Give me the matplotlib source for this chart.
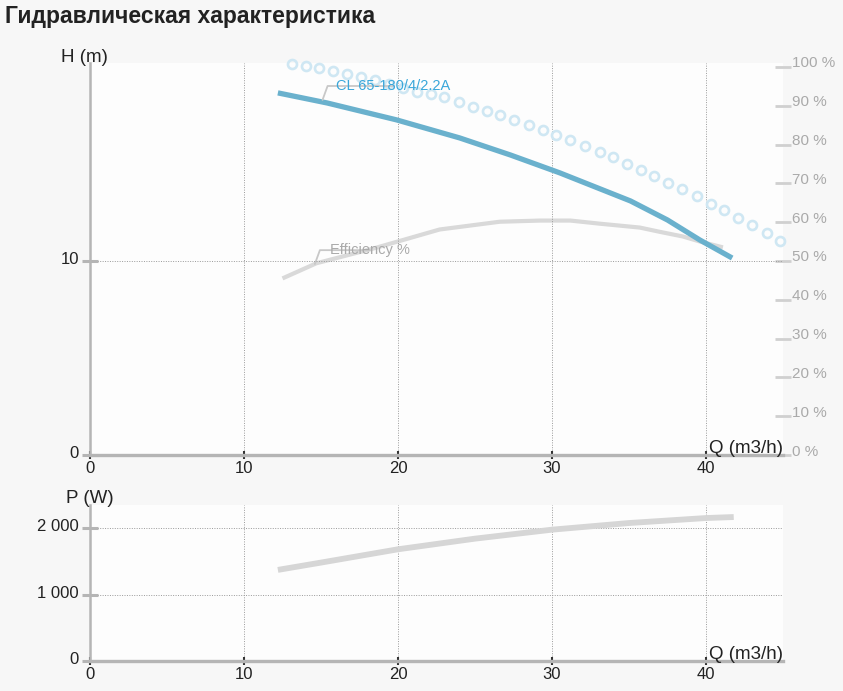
import matplotlib
matplotlib.use("Agg")
import matplotlib.pyplot as plt
import matplotlib.transforms as mtransforms
import numpy as np

plt.rcParams['font.family'] = ['Liberation Sans', 'DejaVu Sans']

# ---------------- data ----------------
title = "Гидравлическая характеристика"
pump_name = "CL 65-180/4/2.2A"

q_head = [12.2, 15.4, 19.9, 24.0, 27.3, 30.5, 35.1, 37.5, 39.6, 41.7]
h_head = [18.66, 18.14, 17.27, 16.34, 15.46, 14.54, 13.09, 12.11, 11.08, 10.15]

q_circ = [13.12, 14.03, 14.87, 15.78, 16.69, 17.60, 18.51, 19.42, 20.32, 21.23,
          22.14, 22.99, 23.96, 24.87, 25.78, 26.62, 27.53, 28.51, 29.42, 30.26,
          31.17, 32.14, 33.12, 33.96, 34.87, 35.78, 36.62, 37.53, 38.44, 39.42,
          40.32, 41.17, 42.08, 42.99, 43.96, 44.81]
h_circ = [20.15, 20.05, 19.95, 19.79, 19.64, 19.48, 19.33, 19.12, 18.92, 18.71,
          18.61, 18.45, 18.20, 17.94, 17.73, 17.53, 17.27, 17.01, 16.75, 16.49,
          16.24, 15.93, 15.62, 15.36, 15.00, 14.69, 14.38, 14.02, 13.71, 13.35,
          12.94, 12.63, 12.22, 11.86, 11.44, 11.03]

q_eff = [12.5, 14.7, 18.4, 22.7, 26.6, 29.2, 31.2, 33.1, 35.7, 37.0, 38.5, 39.6, 41.1]
eff = [45.5, 49.4, 53.2, 58.1, 60.1, 60.4, 60.4, 59.6, 58.6, 57.5, 56.3, 55.0, 53.5]

q_pow = [12.2, 15.0, 20.0, 25.0, 30.0, 35.0, 40.0, 41.8]
p_pow = [1370, 1480, 1680, 1840, 1975, 2075, 2150, 2165]

x_ticks = [0, 10, 20, 30, 40]
h_ticks = [0, 10]
pct_ticks = [0, 10, 20, 30, 40, 50, 60, 70, 80, 90, 100]
pct_labels = [f"{v} %" for v in pct_ticks]
p_ticks = [0, 1000, 2000]
p_labels = ["0", "1 000", "2 000"]

# ---------------- styles ----------------
W, H = 843, 691
fig = plt.figure(figsize=(W / 100, H / 100), dpi=100, facecolor="#f7f7f7")

def fx(px): return px / W
def fy(py): return 1 - py / H

def shift_up(labels, px):
    off = mtransforms.ScaledTranslation(0, px / 100, fig.dpi_scale_trans)
    for lab in labels:
        lab.set_transform(lab.get_transform() + off)

axis_gray = "#b5b5b5"
grid_kw = dict(color="#9a9a9a", linestyle=(0, (1, 1.5)), linewidth=0.7)

def style_axes(ax, ymax):
    ax.set_facecolor("#fdfdfd")
    ax.set_xlim(0, 45)
    ax.set_ylim(0, ymax)
    for s in ("top", "right"):
        ax.spines[s].set_visible(False)
    ax.spines["left"].set_color(axis_gray)
    ax.spines["left"].set_linewidth(1.8)
    ax.spines["bottom"].set_color(axis_gray)
    ax.spines["bottom"].set_linewidth(2.4)
    ax.set_xticks(x_ticks)
    ax.tick_params(axis="x", direction="inout", length=6, width=1.5,
                   color="#333333", labelsize=12, labelcolor="#222222", pad=1)
    ax.tick_params(axis="y", direction="inout", length=12, width=2.2,
                   color=axis_gray, labelsize=12, labelcolor="#222222", pad=2)
    ax.grid(True, **grid_kw)
    ax.set_axisbelow(True)

# ---------------- top panel ----------------
ax = fig.add_axes([fx(90), fy(455), fx(783) - fx(90), fy(63) - fy(455)])
style_axes(ax, 20.2)
ax.set_yticks(h_ticks)

ax2 = ax.twinx()
ax2.set_ylim(0, 20.2 * 5)
for s in ax2.spines.values():
    s.set_visible(False)
ax2.set_yticks(pct_ticks)
ax2.set_yticklabels(pct_labels)
ax2.tick_params(axis="y", direction="inout", length=11, width=2,
                color="#d0d0d0", labelsize=11, labelcolor="#aaaaaa", pad=1)

ax2.plot(q_eff, eff, color="#d9d9d9", linewidth=3, solid_capstyle="butt", zorder=2)
ax.set_zorder(ax2.get_zorder() + 1)
ax.patch.set_visible(False)
ax2.patch.set_visible(True)
ax2.patch.set_facecolor("#fdfdfd")
ax2.grid(False)

ax.plot(q_circ, h_circ, linestyle="none", marker="o", markersize=6.5,
        markerfacecolor="none", markeredgecolor="#cfe7f3", markeredgewidth=1.9,
        clip_on=False, zorder=2)
ax.plot(q_head, h_head, color="#6ab1cd", linewidth=3.8, solid_capstyle="butt", zorder=4)

# labels with leader lines
ax.annotate(pump_name, xy=(15.1, 18.3), xytext=(10, 10), textcoords="offset points",
            color="#3aa7da", fontsize=10.5, ha="left", va="center",
            arrowprops=dict(arrowstyle="-", color="#c8c8c8", lw=1.3,
                            shrinkA=0, shrinkB=0, patchA=None,
                            connectionstyle="angle,angleA=0,angleB=70,rad=0"),
            zorder=6)
ax2.annotate("Efficiency %", xy=(14.6, 49.2), xytext=(11, 10), textcoords="offset points",
             color="#aaaaaa", fontsize=10.5, ha="left", va="center",
             arrowprops=dict(arrowstyle="-", color="#c8c8c8", lw=1.3,
                             shrinkA=0, shrinkB=0, patchA=None,
                             connectionstyle="angle,angleA=0,angleB=70,rad=0"),
             zorder=6)

ax.annotate("Q (m3/h)", xy=(1, 0), xycoords="axes fraction", xytext=(0, -1.5),
            textcoords="offset points", ha="right", va="bottom",
            fontsize=13.5, color="#222222", annotation_clip=False)
ax.annotate("H (m)", xy=(0, 1), xycoords="axes fraction", xytext=(-4, -2),
            textcoords="offset points", ha="center", va="bottom",
            fontsize=13.5, color="#222222", annotation_clip=False)

shift_up(ax.get_yticklabels(), 3)
shift_up(ax2.get_yticklabels(), 5)

# ---------------- bottom panel ----------------
bx = fig.add_axes([fx(90), fy(661), fx(783) - fx(90), fy(505) - fy(661)])
style_axes(bx, 2346)
bx.set_yticks(p_ticks)
bx.set_yticklabels(p_labels)
bx.plot(q_pow, p_pow, color="#d6d6d6", linewidth=4.2, solid_capstyle="butt", zorder=3)
bx.annotate("Q (m3/h)", xy=(1, 0), xycoords="axes fraction", xytext=(0, -1.5),
            textcoords="offset points", ha="right", va="bottom",
            fontsize=13.5, color="#222222", annotation_clip=False)
bx.annotate("P (W)", xy=(0, 1), xycoords="axes fraction", xytext=(0, -1.5),
            textcoords="offset points", ha="center", va="bottom",
            fontsize=13.5, color="#222222", annotation_clip=False)
shift_up(bx.get_yticklabels(), 3)

fig.text(fx(5), fy(17), title, fontsize=16.5, fontweight="bold", color="#222222",
         ha="left", va="center")

fig.savefig("out.png", dpi=100, facecolor=fig.get_facecolor())
